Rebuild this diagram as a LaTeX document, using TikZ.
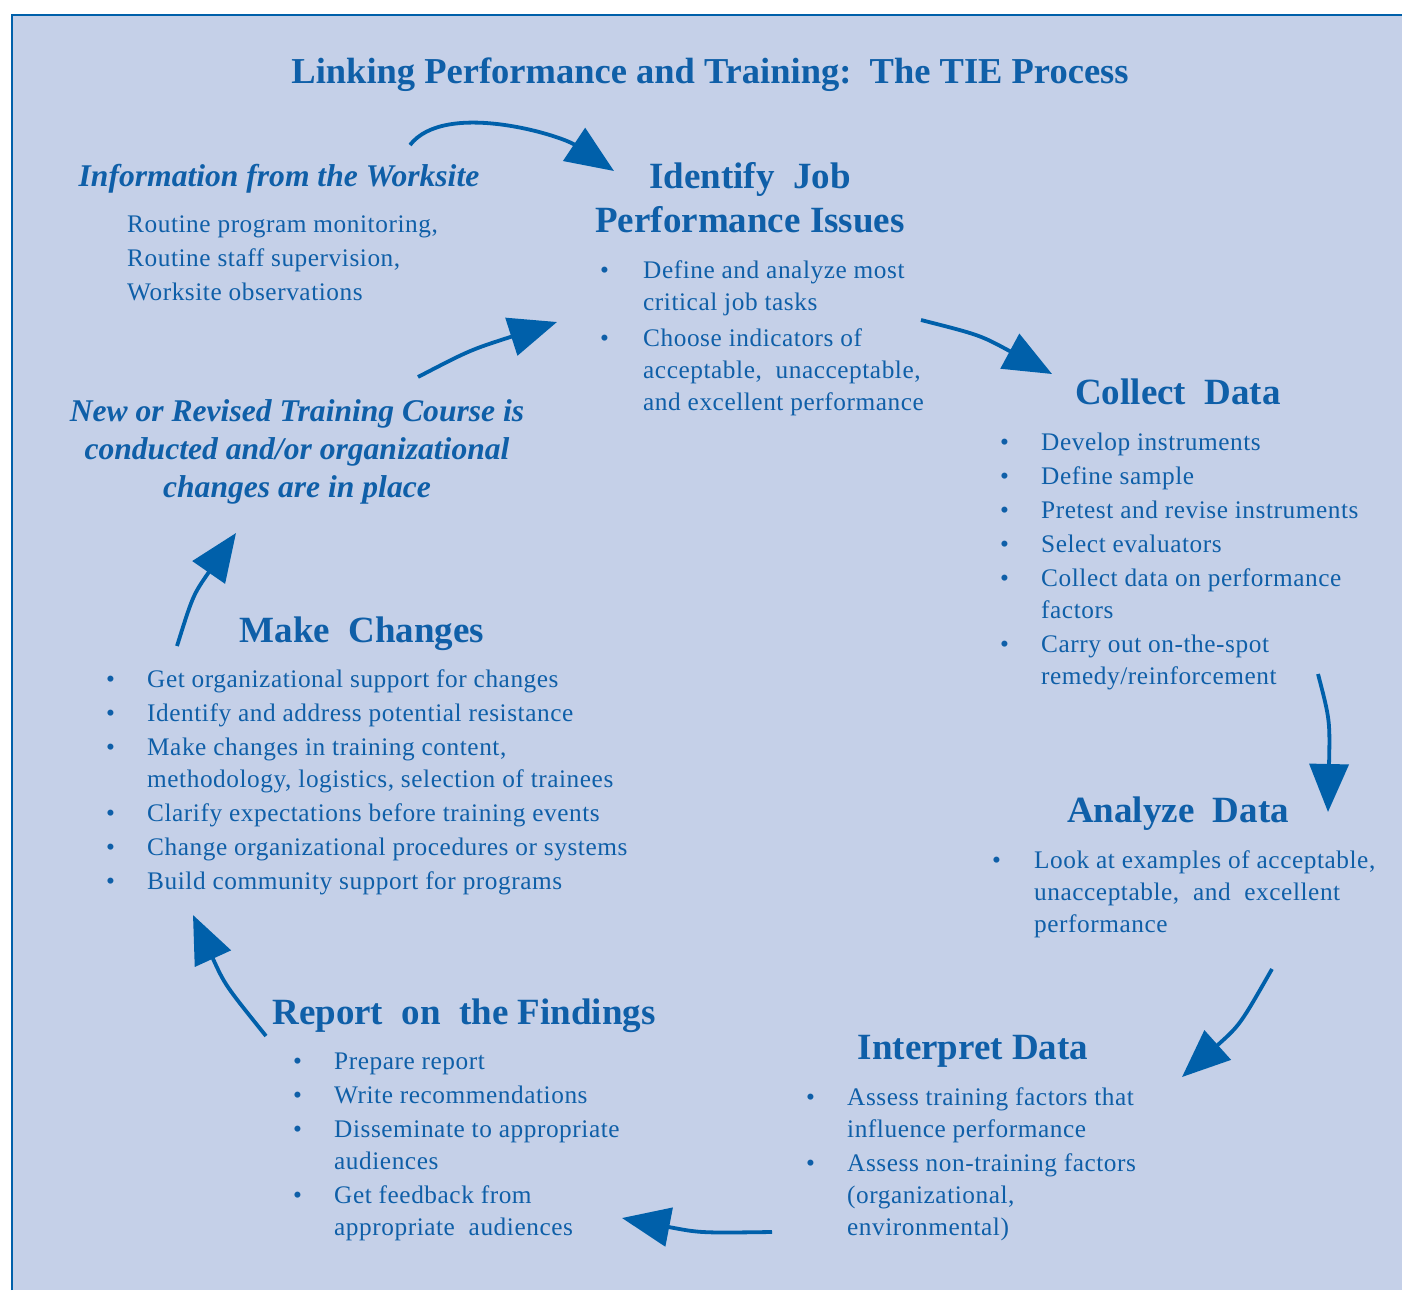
\documentclass[tikz,border=0pt]{standalone}
\usepackage{fontspec}
\setmainfont{Liberation Serif}
\newfontfamily\bodyfont{Liberation Serif}[LetterSpace=2.2]
\usetikzlibrary{arrows.meta}
\definecolor{bg}{HTML}{C5D0E8}
\definecolor{tb}{HTML}{0F5FA8}
\definecolor{ab}{HTML}{0060AA}
\newcommand\bl{\textbullet}
\newcommand\bitems[2]{\begin{tabular}[t]{@{}p{#1}@{}l@{}}#2\end{tabular}}
\newcommand\clines[1]{\begin{tabular}[t]{@{}c@{}}#1\end{tabular}}
\tikzset{
  body/.style={font=\bodyfont\fontsize{25.3}{32}\selectfont, text=tb, inner sep=0pt, anchor=base west},
  head/.style={font=\bfseries\fontsize{37}{44}\selectfont, text=tb, inner sep=0pt, anchor=base},
  ihead/.style={font=\bfseries\itshape\fontsize{31.6}{38}\selectfont, text=tb, inner sep=0pt, anchor=base},
  flow/.style={draw=ab, line width=3.8pt, -{Triangle[length=48pt,width=39pt]}},
}
\begin{document}
\begin{tikzpicture}[x=1pt,y=-1pt]
\useasboundingbox (0,0) rectangle (1402,1290);
\fill[bg] (12,15) rectangle (1402,1290);
\draw[ab, line width=2.5pt] (12,1290) -- (12,15) -- (1402,15);

% title
\node[head, font=\bfseries\fontsize{36.5}{44}\selectfont] (title) at (710,84) {Linking Performance and Training:\ \ The TIE Process};

% information from the worksite
\node[ihead] (infoh) at (279,186) {Information from the Worksite};
\node[body] (info) at (127,232) {\begin{tabular}[t]{@{}l@{}}Routine program monitoring,\\[2pt] Routine staff supervision,\\[2pt] Worksite observations\end{tabular}};

% identify
\node[head] (idh) at (750,188) {\clines{Identify\ \ Job\\ Performance Issues}};
\node[body] (id) at (600,278) {\bitems{43pt}{%
\bl & Define and analyze most\\
 & critical job tasks\\[4pt]
\bl & Choose indicators of\\
 & acceptable,\ \ unacceptable,\\
 & and excellent performance}};

% collect
\node[head] (coh) at (1178,404) {Collect\ \ Data};
\node[body] (co) at (1000,450) {\bitems{41pt}{%
\bl & Develop instruments\\[2pt]
\bl & Define sample\\[2pt]
\bl & Pretest and revise instruments\\[2pt]
\bl & Select evaluators\\[2pt]
\bl & Collect data on performance\\
 & factors\\[2pt]
\bl & Carry out on-the-spot\\
 & remedy/reinforcement}};

% analyze
\node[head] (anh) at (1178,822) {Analyze\ \ Data};
\node[body] (an) at (992,868) {\bitems{42pt}{%
\bl & Look at examples of acceptable,\\
 & unacceptable,\ \ and\ \ excellent\\
 & performance}};

% interpret
\node[head] (inh) at (973,1059) {Interpret Data};
\node[body] (in) at (806,1105) {\bitems{41pt}{%
\bl & Assess training factors that\\
 & influence performance\\[2pt]
\bl & Assess non-training factors\\
 & (organizational,\\
 & environmental)}};

% report
\node[head] (reh) at (464,1024) {Report\ \ on\ \ the Findings};
\node[body] (re) at (293,1069) {\bitems{41pt}{%
\bl & Prepare report\\[2pt]
\bl & Write recommendations\\[2pt]
\bl & Disseminate to appropriate\\
 & audiences\\[2pt]
\bl & Get feedback from\\
 & appropriate\ \ audiences}};

% make changes
\node[head] (mah) at (362,642) {Make\ \ Changes};
\node[body] (ma) at (106,687) {\bitems{41pt}{%
\bl & Get organizational support for changes\\[2pt]
\bl & Identify and address potential resistance\\[2pt]
\bl & Make changes in training content,\\
 & methodology, logistics, selection of trainees\\[2pt]
\bl & Clarify expectations before training events\\[2pt]
\bl & Change organizational procedures or systems\\[2pt]
\bl & Build community support for programs}};

% new or revised
\node[ihead] (nr) at (297,421) {\clines{New or Revised Training Course is\\ conducted and/or organizational\\ changes are in place}};

% arrow end points
\coordinate (a1s) at (410,145); \coordinate (a1e) at (614,171);
\coordinate (a2s) at (921,320); \coordinate (a2e) at (1052,374);
\coordinate (a3s) at (1318,674); \coordinate (a3e) at (1328,812);
\coordinate (a4s) at (1272,969); \coordinate (a4e) at (1182,1077);
\coordinate (a5s) at (772,1232); \coordinate (a5e) at (622,1218);
\coordinate (a6s) at (266,1036); \coordinate (a6e) at (193,915);
\coordinate (a7s) at (177,646); \coordinate (a7e) at (236,533);
\coordinate (a8s) at (418,377); \coordinate (a8e) at (557,322);

\draw[flow] (a1s) .. controls (445,100) and (560,135) .. (a1e);
\draw[flow] (a2s) .. controls (980,335) .. (a2e);
\draw[flow] (a3s) .. controls (1330,720) .. (a3e);
\draw[flow] (a4s) .. controls (1240,1025) .. (a4e);
\draw[flow] (a5s) .. controls (700,1233) .. (a5e);
\draw[flow] (a6s) .. controls (225,985) .. (a6e);
\draw[flow] (a7s) .. controls (193,595) .. (a7e);
\draw[flow] (a8s) .. controls (470,350) .. (a8e);
\end{tikzpicture}
\end{document}
